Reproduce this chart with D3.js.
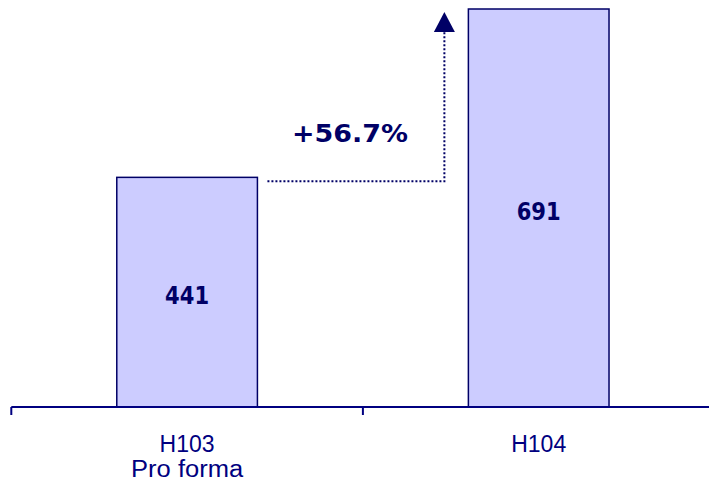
<!DOCTYPE html>
<html>
<head>
<meta charset="utf-8">
<script src="https://cdn.jsdelivr.net/npm/d3@7"></script>
<style>
  html, body { margin: 0; padding: 0; background: #ffffff; }
  svg { display: block; }
</style>
</head>
<body>
<script>
// ---- data ----
const categories = ["H103", "H104"];
const subLabels = ["Pro forma", ""];
const values = [441, 691];
const growthLabel = "+56.7%";

// ---- layout ----
const W = 709, H = 482;
const baseY = 407;
const navy = "#000080";
const darkNavy = "#000066";

const svg = d3.select("body").append("svg")
  .attr("width", W).attr("height", H);

const x = d3.scaleBand()
  .domain(categories)
  .range([11.3, 714.5])
  .paddingInner(0.6)
  .paddingOuter(0.3);

const y = d3.scaleLinear()
  .domain([100, 691])
  .range([baseY, 9]);

// bars
svg.selectAll("rect.bar")
  .data(values)
  .enter().append("rect")
  .attr("class", "bar")
  .attr("x", (d, i) => x(categories[i]))
  .attr("y", d => y(d))
  .attr("width", x.bandwidth())
  .attr("height", d => baseY - y(d))
  .attr("fill", "#ccccff")
  .attr("stroke", darkNavy)
  .attr("stroke-width", 1.5);

// axis line
const r0 = x.range()[0];
svg.append("line")
  .attr("x1", r0).attr("x2", W)
  .attr("y1", baseY).attr("y2", baseY)
  .attr("stroke", navy).attr("stroke-width", 2);

// ticks at band boundaries
const boundaries = d3.range(categories.length + 1).map(i => r0 + i * x.step());
svg.selectAll("line.tick")
  .data(boundaries)
  .enter().append("line")
  .attr("class", "tick")
  .attr("x1", d => d).attr("x2", d => d)
  .attr("y1", baseY).attr("y2", baseY + 8)
  .attr("stroke", navy).attr("stroke-width", 2);

// category labels
const catG = svg.selectAll("g.cat")
  .data(categories)
  .enter().append("g")
  .attr("class", "cat")
  .attr("transform", d => `translate(${x(d) + x.bandwidth() / 2},0)`);

catG.append("text")
  .attr("y", 452)
  .attr("text-anchor", "middle")
  .attr("font-family", "'Liberation Sans', Arial, sans-serif")
  .attr("font-size", 23)
  .attr("fill", navy)
  .text(d => d);

catG.append("text")
  .attr("y", 476.5)
  .attr("text-anchor", "middle")
  .attr("font-family", "'Liberation Sans', Arial, sans-serif")
  .attr("font-size", 23)
  .attr("fill", navy)
  .each(function(d, i) {
    const t = subLabels[i];
    d3.select(this).text(t);
    if (t) d3.select(this).attr("textLength", 112).attr("lengthAdjust", "spacingAndGlyphs");
  });

// value labels
svg.selectAll("text.val")
  .data(values)
  .enter().append("text")
  .attr("class", "val")
  .attr("x", (d, i) => x(categories[i]) + x.bandwidth() / 2)
  .attr("y", d => (y(d) + baseY) / 2 + 12)
  .attr("text-anchor", "middle")
  .attr("font-family", "'DejaVu Sans', Verdana, sans-serif")
  .attr("font-weight", "bold")
  .attr("font-size", 24)
  .attr("fill", darkNavy)
  .attr("textLength", 44)
  .attr("lengthAdjust", "spacingAndGlyphs")
  .text(d => d);

// growth arrow
const startX = x(categories[0]) + x.bandwidth() + 10;
const lineY = y(values[0]) + 4;
const arrowX = x(categories[1]) - 24;
const tipY = y(values[1]) + 3;
const baseTri = tipY + 20;

svg.append("path")
  .attr("d", `M${startX},${lineY} H${arrowX} V${baseTri}`)
  .attr("fill", "none")
  .attr("stroke", darkNavy)
  .attr("stroke-width", 2)
  .attr("stroke-dasharray", "2,2");

svg.append("path")
  .attr("d", `M${arrowX},${tipY} L${arrowX + 10.5},${baseTri} L${arrowX - 10.5},${baseTri} Z`)
  .attr("fill", darkNavy);

svg.append("text")
  .attr("x", (startX + arrowX) / 2 - 6)
  .attr("y", 142)
  .attr("text-anchor", "middle")
  .attr("font-family", "'DejaVu Sans', Verdana, sans-serif")
  .attr("font-weight", "bold")
  .attr("font-size", 24)
  .attr("fill", darkNavy)
  .attr("textLength", 116)
  .attr("lengthAdjust", "spacingAndGlyphs")
  .text(growthLabel);
</script>
</body>
</html>
